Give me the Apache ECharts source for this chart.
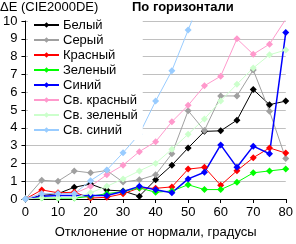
<!DOCTYPE html>
<html lang="ru" style="height: 100%">
<head>
    <meta charset="utf-8">
    <title>ECharts</title>
    <script src="https://cdn.jsdelivr.net/npm/echarts@6/dist/echarts.min.js"></script>
    <style>
        html, body { margin: 0; padding: 0; background: #fff; }
        #main { width: 296px; height: 244px; }
    </style>
</head>
<body>
<div id="main"></div>
<script type="text/javascript">
    // углы отклонения, градусы
    var angles = [0, 5, 10, 15, 20, 25, 30, 35, 40, 45, 50, 55, 60, 65, 70, 75, 80];
    var seriesNames = ['Белый', 'Серый', 'Красный', 'Зеленый', 'Синий', 'Св. красный', 'Св. зеленый', 'Св. синий'];
    var seriesColors = ['#000000', '#a0a0a0', '#ff0000', '#00ff00', '#0000ff', '#ff99cc', '#ccffcc', '#99ccff'];

    var white = [0, 0.2, 0.3, 0.66, 0.84, 0.5, 0.45, 0.16, 1.08, 1.9, 2.87, 3.8, 3.83, 4.43, 6.15, 5.3, 5.5];
    var gray = [0, 1.05, 1.0, 1.58, 1.47, 1.6, 0.95, 1.08, 1.36, 2.54, 4.96, 3.85, 5.79, 5.79, 7.25, 4.93, 2.27];
    var red = [0, 0.51, 0.35, 0.38, 0.05, 0.1, 0.29, 0.62, 0.6, 0.68, 1.68, 1.78, 0.77, 1.59, 2.32, 2.87, 2.58];
    var green = [0, 0.07, 0.05, 0.05, 0.15, 0.3, 0.42, 0.62, 0.38, 0.45, 0.8, 0.53, 0.53, 0.94, 1.47, 1.58, 1.68];
    var blue = [0, 0.15, 0.2, 0.2, 0.2, 0.2, 0.42, 0.71, 0.52, 0.35, 1.13, 1.5, 3.04, 1.78, 2.97, 2.54, 9.36];
    var lightRed = [0, 0.3, 0.3, 0.3, 0.71, 1.36, 1.9, 2.66, 3.22, 4.34, 5.26, 6.36, 6.9, 9.0, 8.13, 8.7, 10.1];
    var lightGreen = [0, 0.07, 0.07, 0.07, 0.35, 0.71, 1.13, 1.58, 2.0, 2.8, 3.64, 4.5, 5.51, 6.45, 7.36, 8.1, 8.37];
    var lightBlue = [0, 0.3, 0.3, 0.3, 1.03, 1.63, 2.6, 3.64, 5.5, 7.21, 9.49, 11.8];

    var yTicks = [0, 1, 2, 3, 4, 5, 6, 7, 8, 9, 10];

    var allValues = [white, gray, red, green, blue, lightRed, lightGreen, lightBlue];

    var dom = document.getElementById('main');
    var myChart = echarts.init(dom, null, { renderer: 'canvas' });

    var font = 'Liberation Sans';

    var series = allValues.map(function (vals, i) {
        return {
            name: seriesNames[i],
            type: 'line',
            data: vals.map(function (v, j) { return [angles[j], v]; }),
            symbol: 'diamond',
            symbolSize: 7,
            clip: true,
            color: seriesColors[i],
            lineStyle: { width: i === 4 ? 1.5 : 1, color: seriesColors[i] },
            itemStyle: { color: seriesColors[i] },
            animation: false
        };
    });

    var option = {
        backgroundColor: '#fff',
        title: [
            {
                text: 'ΔE (CIE2000DE)',
                left: 0, top: 1, padding: 0,
                textStyle: { fontFamily: font, fontSize: 13, fontWeight: 'normal', color: '#000' }
            },
            {
                text: 'По горизонтали',
                left: 132, top: 1, padding: 0,
                textStyle: { fontFamily: font, fontSize: 13, fontWeight: 'bold', color: '#000' }
            }
        ],
        legend: {
            orient: 'vertical',
            left: 28, top: 15,
            padding: [3, 5],
            backgroundColor: '#fff',
            itemWidth: 25,
            itemHeight: 7,
            itemGap: 1,
            data: seriesNames,
            textStyle: { fontFamily: font, fontSize: 13, color: '#000', lineHeight: 14, padding: [0, 0, 0, -1] }
        },
        grid: { left: 25, right: 7, top: 21, bottom: 41 },
        xAxis: {
            type: 'value',
            min: 0, max: 80, interval: 10,
            name: 'Отклонение от нормали, градусы',
            nameLocation: 'middle',
            nameGap: 27,
            nameTextStyle: { fontFamily: font, fontSize: 13, color: '#000' },
            axisLine: { lineStyle: { color: '#000' } },
            axisTick: { show: true, length: 4, lineStyle: { color: '#000' } },
            axisLabel: { fontFamily: font, fontSize: 13, color: '#000', margin: 7 },
            splitLine: { show: false }
        },
        yAxis: {
            type: 'value',
            min: yTicks[0], max: yTicks[yTicks.length - 1], interval: 1,
            axisLine: { show: true, lineStyle: { color: '#000' } },
            axisTick: { show: true, length: 4, lineStyle: { color: '#000' } },
            axisLabel: { fontFamily: font, fontSize: 13, color: '#000', margin: 8 },
            splitLine: { show: true, lineStyle: { color: '#c0c0c0', width: 1 } }
        },
        series: series
    };

    myChart.setOption(option);
</script>
</body>
</html>
